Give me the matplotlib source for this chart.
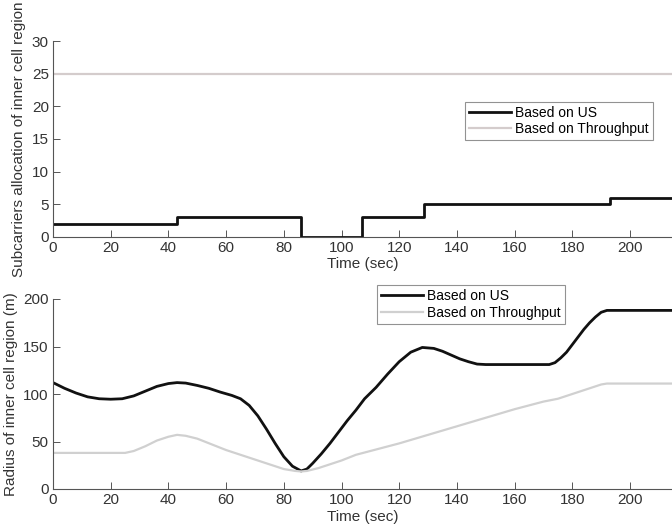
import matplotlib
matplotlib.use("Agg")
import matplotlib.pyplot as plt

plt.rcParams['font.family'] = ['Liberation Sans', 'DejaVu Sans']

# ---- Top panel data (subcarrier allocation) ----
step_time = [0, 43, 86, 107, 128.5, 193, 216]
step_us = [2, 3, 0, 3, 5, 6, 6]
thr_time_top = [0, 216]
thr_alloc = [25, 25]

# ---- Bottom panel data (radius of inner cell region) ----
t_us = [0, 4, 8, 12, 16, 20, 24, 28, 32, 36, 40, 43, 46, 50, 54, 58, 62, 65, 68, 71,
        74, 77, 80, 83, 86, 88, 90, 93, 96, 99, 102, 105, 108, 112, 116, 120, 124,
        128, 132, 135, 138, 141, 144, 147, 150, 172, 174, 176, 178, 180, 182, 184,
        186, 188, 190, 192, 216]
r_us = [112, 106, 101, 97, 95, 94.5, 95, 98, 103, 108, 111, 112, 111.5, 109, 106, 102,
        98.5, 95, 88, 77, 63, 48, 34, 24, 19, 21, 27, 37, 48, 60, 72, 83, 95, 107,
        121, 134, 144, 149, 148, 145, 141, 137, 134, 131.5, 131, 131, 133, 138, 144,
        152, 160, 168, 175, 181, 186, 188, 188]

t_thr = [0, 25, 28, 32, 36, 40, 43, 46, 50, 55, 60, 65, 70, 75, 80, 84, 86, 88, 92,
         96, 100, 105, 110, 120, 130, 140, 150, 160, 170, 175, 180, 185, 190, 192, 216]
r_thr = [38, 38, 40, 45, 51, 55, 57, 56, 53, 47, 41, 36, 31, 26, 21, 19, 18.5, 19, 22,
         26, 30, 36, 40, 48, 57, 66, 75, 84, 92, 95, 100, 105, 110, 111, 111]

xticks = [0, 20, 40, 60, 80, 100, 120, 140, 160, 180, 200]
yticks_top = [0, 5, 10, 15, 20, 25, 30]
yticks_bot = [0, 50, 100, 150, 200]

W, H = 672, 526
fig = plt.figure(figsize=(W / 100, H / 100), dpi=100)

left = 53
xmax = (W - left) / 2.885

def style(ax):
    for s in ('top', 'right'):
        ax.spines[s].set_visible(False)
    for s in ('left', 'bottom'):
        ax.spines[s].set_color('#555555')
        ax.spines[s].set_linewidth(0.8)
    ax.tick_params(direction='in', length=5, width=0.7, colors='#555555',
                   labelcolor='#333333', labelsize=11, pad=3)
    ax.set_xlim(0, xmax)
    ax.set_xticks(xticks)

# Top axes
ax1 = fig.add_axes([left / W, (H - 237) / H, (W - left) / W, 196 / H])
style(ax1)
ax1.plot(step_time, step_us, drawstyle='steps-post', color='#111111', lw=2.0,
         label='Based on US')
ax1.plot(thr_time_top, thr_alloc, color='#d4cccc', lw=1.6, label='Based on Throughput')
ax1.set_ylim(0, 30)
ax1.set_yticks(yticks_top)
ax1.set_xlabel('Time (sec)', fontsize=11, color='#333333', labelpad=1)
ax1.set_ylabel('Subcarriers allocation of inner cell region', fontsize=11,
               color='#333333', labelpad=4)
leg1 = ax1.legend(loc='upper left', bbox_to_anchor=((465 - left) / (W - left), (237 - 102) / 196),
                  fontsize=10, frameon=True, fancybox=False, borderpad=0.3,
                  labelspacing=0.1, handlelength=3.0, handletextpad=0.3,
                  borderaxespad=0)
leg1.get_frame().set_edgecolor('#777777')
leg1.get_frame().set_linewidth(0.8)

# Bottom axes
ax2 = fig.add_axes([left / W, (H - 489) / H, (W - left) / W, 190 / H])
style(ax2)
ax2.plot(t_us, r_us, color='#111111', lw=2.0, label='Based on US')
ax2.plot(t_thr, r_thr, color='#d0d0d0', lw=1.6, label='Based on Throughput')
ax2.set_ylim(0, 200)
ax2.set_yticks(yticks_bot)
ax2.set_xlabel('Time (sec)', fontsize=11, color='#333333', labelpad=2)
ax2.set_ylabel('Radius of inner cell region (m)', fontsize=11, color='#333333', labelpad=4)
leg2 = ax2.legend(loc='upper left', bbox_to_anchor=((377 - left) / (W - left), (489 - 285) / 190),
                  fontsize=10, frameon=True, fancybox=False, borderpad=0.3,
                  labelspacing=0.2, handlelength=3.0, handletextpad=0.3,
                  borderaxespad=0)
leg2.get_frame().set_edgecolor('#777777')
leg2.get_frame().set_linewidth(0.8)

fig.savefig('out.png', dpi=100)
